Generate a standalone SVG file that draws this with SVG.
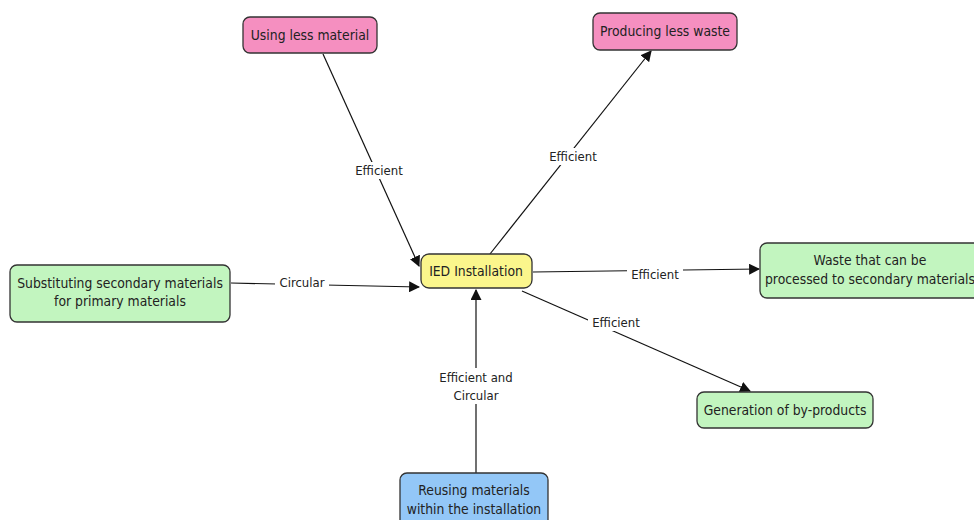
<svg xmlns="http://www.w3.org/2000/svg" width="974" height="520" viewBox="0 0 974 520">
  <style>
    .box { stroke: #333; stroke-width: 1.3; }
    .pink { fill: #f58fc0; }
    .green { fill: #c2f5bf; }
    .yellow { fill: #fbf68c; }
    .blue { fill: #93c7f7; }
    .t { font-family: "DejaVu Sans Condensed", "DejaVu Sans", sans-serif; font-size: 13.8px; fill: #222; text-anchor: middle; }
    .lbl { font-family: "DejaVu Sans Condensed", "DejaVu Sans", sans-serif; font-size: 13px; fill: #222; text-anchor: middle; }
    .edge { stroke: #111; stroke-width: 1.2; fill: none; marker-end: url(#arrow); }
    .bg { fill: #fff; }
  </style>
  <defs>
    <marker id="arrow" viewBox="0 0 10 10" refX="9" refY="5" markerWidth="11" markerHeight="11" markerUnits="userSpaceOnUse" orient="auto">
      <path d="M0,0 L10,5 L0,10 z" fill="#111"/>
    </marker>
  </defs>
  <rect width="974" height="520" fill="#fff"/>

  <g id="connectors">
    <line class="edge" x1="323" y1="54" x2="419" y2="266"/>
    <line class="edge" x1="490" y1="254" x2="651" y2="51"/>
    <line class="edge" x1="231" y1="283" x2="419" y2="287"/>
    <line class="edge" x1="533" y1="272" x2="759" y2="269"/>
    <line class="edge" x1="522" y1="291" x2="750" y2="391"/>
    <line class="edge" x1="476" y1="473" x2="476" y2="290"/>
    <!-- edge labels -->
    <rect class="bg" x="351" y="162" width="56" height="17"/>
    <text class="lbl" x="379" y="175">Efficient</text>
    <rect class="bg" x="545" y="148" width="56" height="17"/>
    <text class="lbl" x="573" y="161">Efficient</text>
    <rect class="bg" x="275" y="274" width="54" height="17"/>
    <text class="lbl" x="302" y="287">Circular</text>
    <rect class="bg" x="627" y="266" width="56" height="17"/>
    <text class="lbl" x="655" y="279">Efficient</text>
    <rect class="bg" x="588" y="314" width="56" height="17"/>
    <text class="lbl" x="616" y="327">Efficient</text>
    <rect class="bg" x="434" y="368" width="84" height="36"/>
    <text class="lbl" x="476" y="382">Efficient and</text>
    <text class="lbl" x="476" y="400">Circular</text>
  </g>

  <g id="using-less-material">
    <rect class="box pink" x="243" y="17" width="134" height="36" rx="7"/>
    <text class="t" x="310" y="40">Using less material</text>
  </g>
  <g id="producing-less-waste">
    <rect class="box pink" x="593" y="13" width="144" height="37" rx="7"/>
    <text class="t" x="665" y="36">Producing less waste</text>
  </g>
  <g id="substituting">
    <rect class="box green" x="10" y="265" width="220" height="57" rx="7"/>
    <text class="t" x="120" y="288">Substituting secondary materials</text>
    <text class="t" x="120" y="306">for primary materials</text>
  </g>
  <g id="ied-installation">
    <rect class="box yellow" x="421" y="254" width="111" height="34" rx="8"/>
    <text class="t" x="476" y="276">IED Installation</text>
  </g>
  <g id="waste-processed">
    <rect class="box green" x="760" y="243" width="230" height="55" rx="7"/>
    <text class="t" x="870" y="265">Waste that can be</text>
    <text class="t" x="870" y="284">processed to secondary materials</text>
  </g>
  <g id="by-products">
    <rect class="box green" x="697" y="392" width="176" height="36" rx="7"/>
    <text class="t" x="785" y="415">Generation of by-products</text>
  </g>
  <g id="reusing-materials">
    <rect class="box blue" x="400" y="473" width="148" height="60" rx="7"/>
    <text class="t" x="474" y="495">Reusing materials</text>
    <text class="t" x="474" y="514">within the installation</text>
  </g>
</svg>
